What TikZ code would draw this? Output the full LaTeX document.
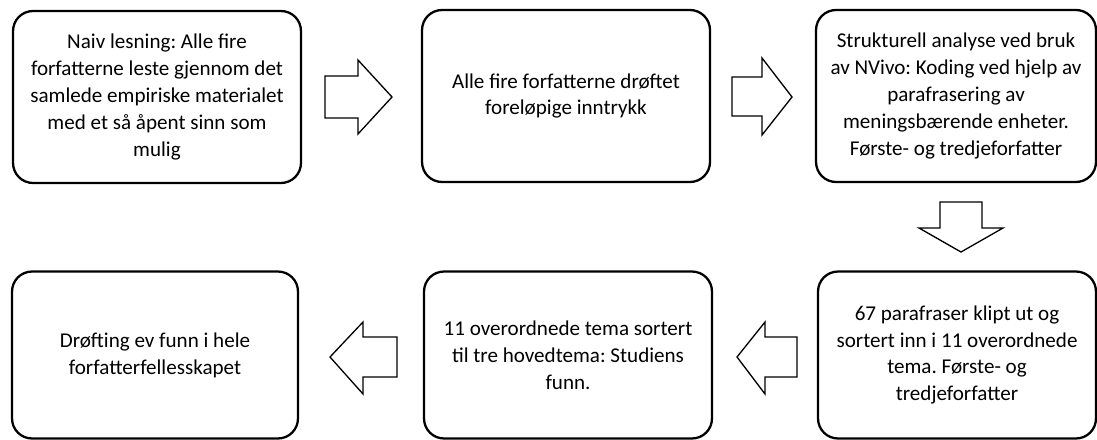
\documentclass[tikz,border=0pt]{standalone}
\usepackage{fontspec}
\setmainfont{Carlito}
\begin{document}
\frenchspacing
\begin{tikzpicture}[x=0.02cm,y=-0.02cm,
  stepbox/.style={draw=black,line width=1.3pt,rounded corners=0.4cm,align=center,
    inner sep=0pt,font=\fontsize{12}{15.3}\selectfont},
  blockarrow/.style={draw=black,line width=0.75pt,fill=white,line join=miter}]
\useasboundingbox (0,0) rectangle (1097,439);
\node[stepbox,minimum width=5.76cm,minimum height=3.44cm] (b1) at (157,97)
  {Naiv lesning: Alle fire\\ forfatterne leste gjennom det\\ samlede empiriske materialet\\ med et så åpent sinn som\\ mulig};
\node[stepbox,minimum width=5.76cm,minimum height=3.44cm] (b2) at (566,96)
  {Alle fire forfatterne drøftet\\ foreløpige inntrykk};
\node[stepbox,minimum width=5.6cm,minimum height=3.44cm] (b3) at (956,96)
  {Strukturell analyse ved bruk\\ av NVivo: Koding ved hjelp av\\ parafrasering av\\ meningsbærende enheter.\\ Første- og tredjeforfatter};
\node[stepbox,minimum width=5.72cm,minimum height=3.34cm] (b4) at (155,355)
  {Drøfting ev funn i hele\\ forfatterfellesskapet};
\node[stepbox,minimum width=5.76cm,minimum height=3.34cm] (b5) at (568,355)
  {11 overordnede tema sortert\\ til tre hovedtema: Studiens\\ funn.};
\node[stepbox,minimum width=5.56cm,minimum height=3.34cm] (b6) at (957,355)
  {67 parafraser klipt ut og\\ sortert inn i 11 overordnede\\ tema. Første- og\\ tredjeforfatter};
% right arrows
\coordinate (a1) at (325,97);
\draw[blockarrow] (a1) ++(0,-21) -- ++(33,0) -- ++(0,-16) -- ++(34,37) -- ++(-34,37) -- ++(0,-16) -- ++(-33,0) -- cycle;
\coordinate (a2) at (732,97);
\draw[blockarrow] (a2) ++(0,-20) -- ++(30,0) -- ++(0,-19) -- ++(30,39) -- ++(-30,38) -- ++(0,-19) -- ++(-30,0) -- cycle;
% down arrow
\coordinate (a3) at (961,202);
\draw[blockarrow] (a3) ++(-21,0) -- ++(0,26) -- ++(-21,0) -- ++(42,24) -- ++(42,-24) -- ++(-21,0) -- ++(0,-26) -- cycle;
% left arrows
\coordinate (a4) at (797,357);
\draw[blockarrow] (a4) ++(0,-20) -- ++(-32,0) -- ++(0,-15) -- ++(-28,35) -- ++(28,37) -- ++(0,-17) -- ++(32,0) -- cycle;
\coordinate (a5) at (397,357);
\draw[blockarrow] (a5) ++(0,-20) -- ++(-34,0) -- ++(0,-15) -- ++(-33,35) -- ++(33,37) -- ++(0,-17) -- ++(34,0) -- cycle;
\end{tikzpicture}
\end{document}
